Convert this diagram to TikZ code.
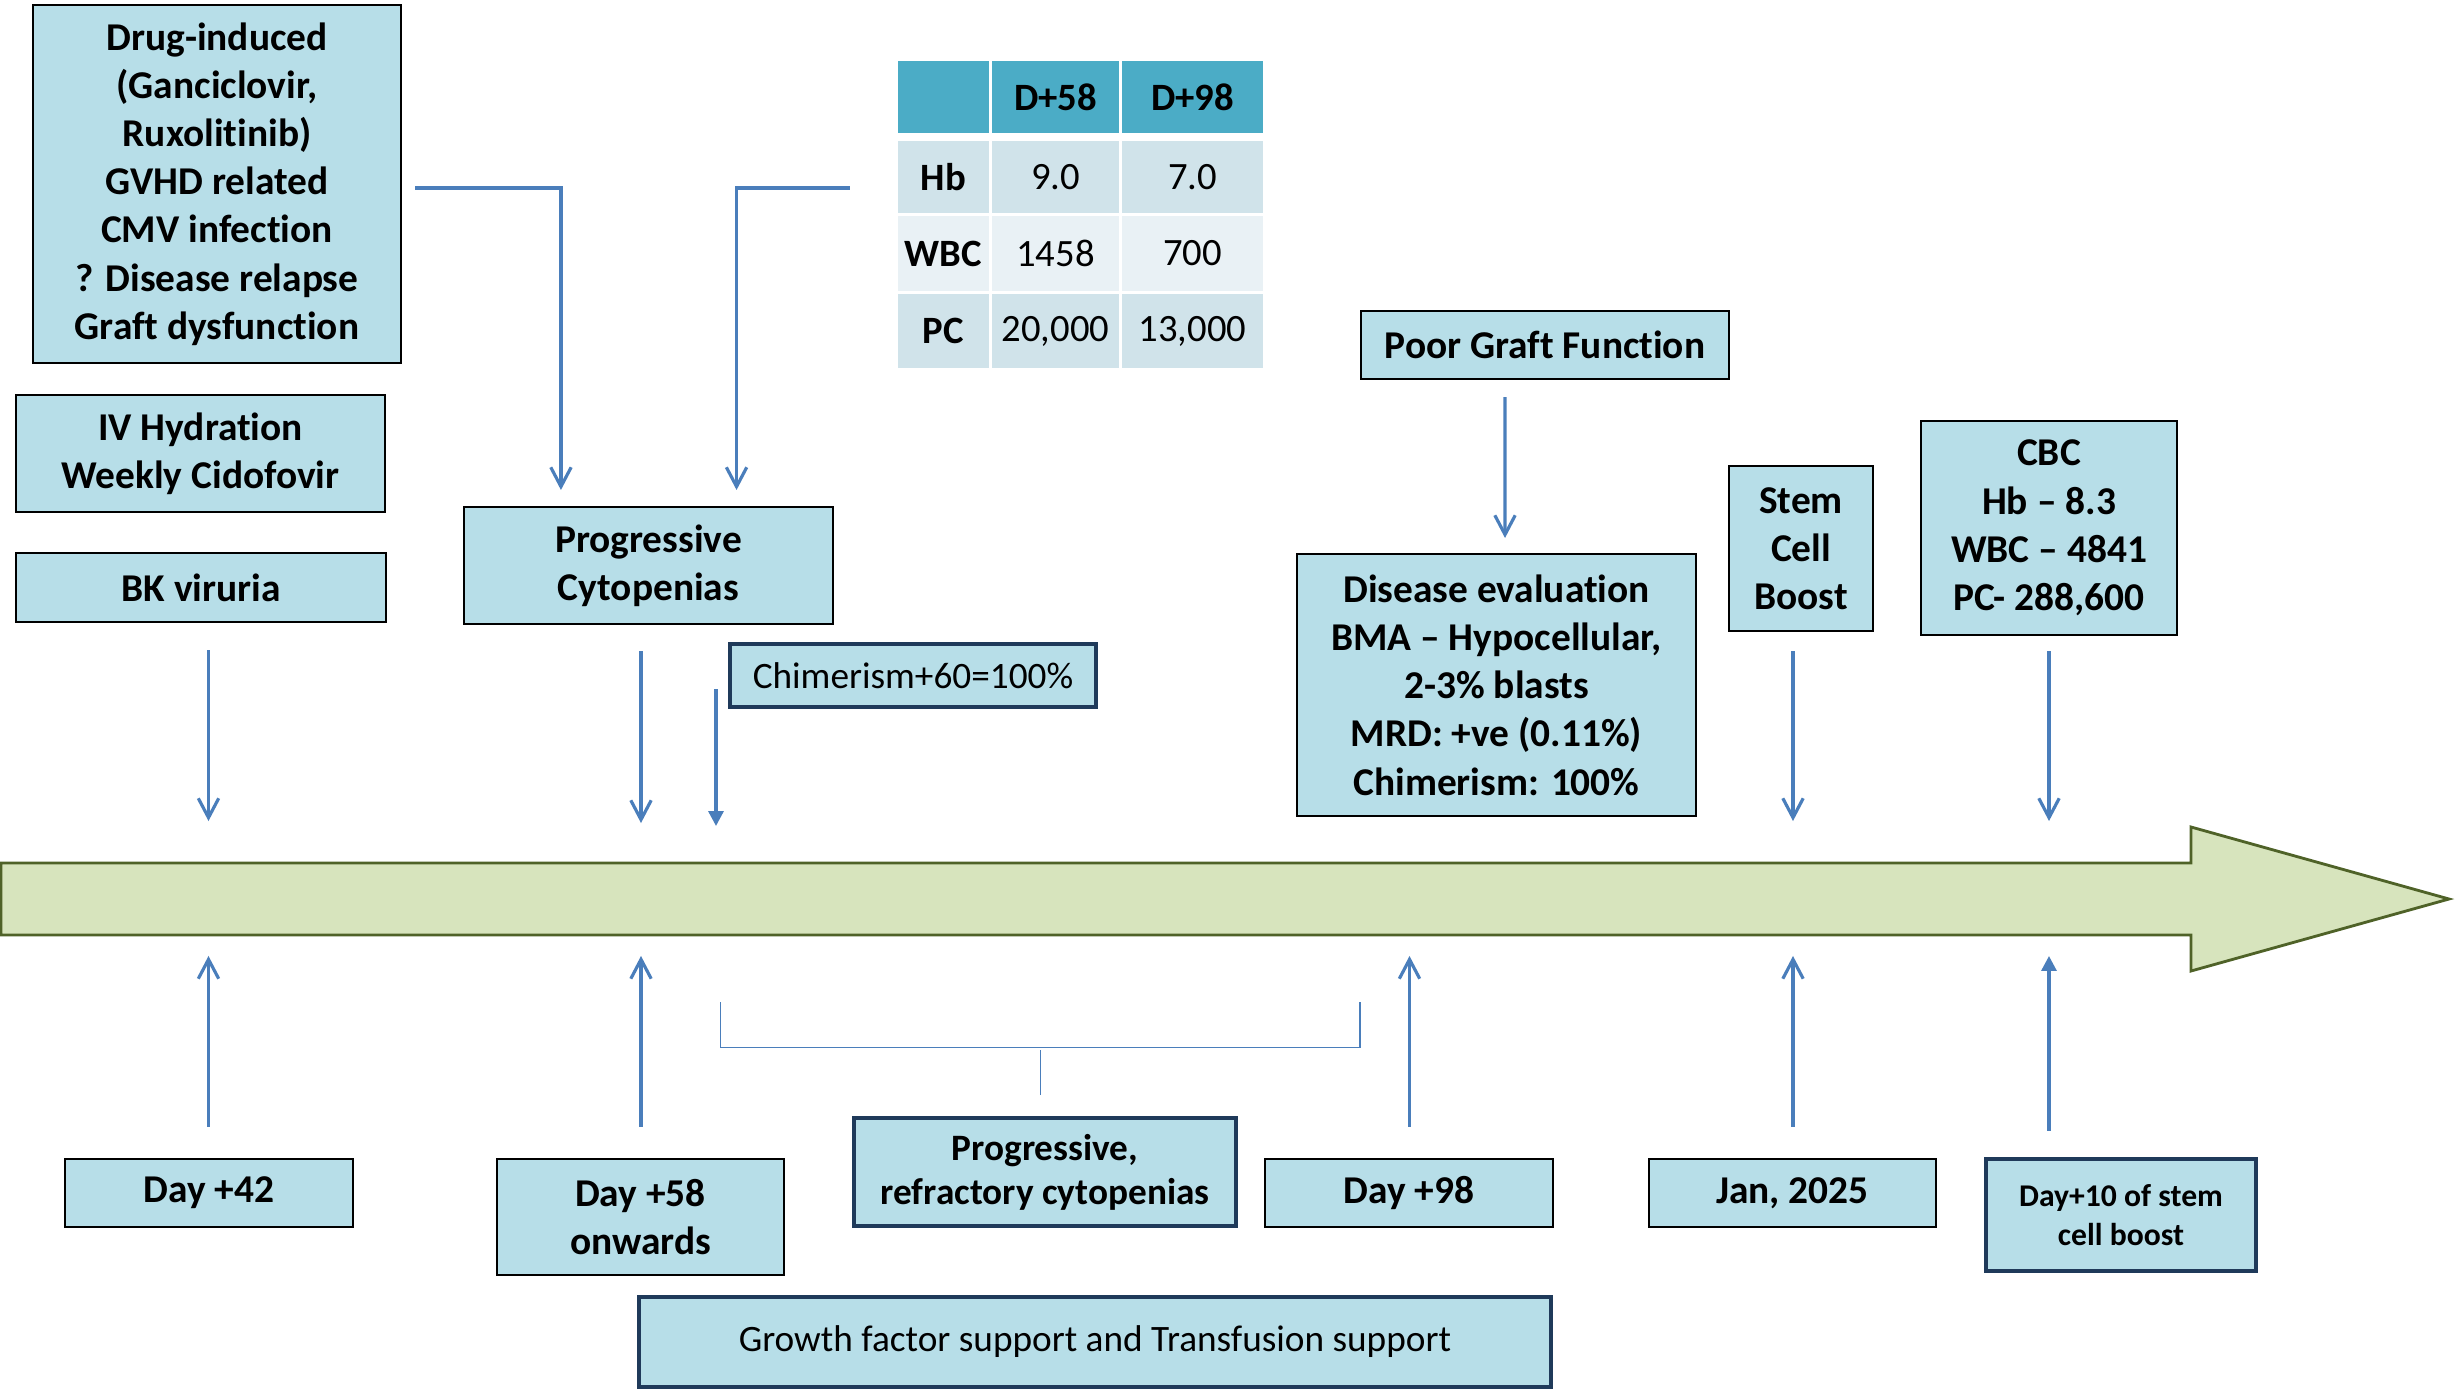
\documentclass[tikz,border=0pt]{standalone}
\usepackage{fontspec}
\setmainfont{Carlito}[Ligatures={TeX,NoCommon}]
\usetikzlibrary{arrows.meta}
\definecolor{boxfill}{HTML}{B7DEE8}
\definecolor{navy}{HTML}{1F3A5A}
\definecolor{arrblue}{HTML}{4A7EBB}
\definecolor{tlfill}{HTML}{D7E4BD}
\definecolor{tldraw}{HTML}{4F6228}
\definecolor{thead}{HTML}{4BACC6}
\definecolor{trowA}{HTML}{D0E3EA}
\definecolor{trowB}{HTML}{E9F1F5}
\begin{document}
\begin{tikzpicture}[x=0.01cm,y=-0.01cm,
  wh/.style 2 args={minimum width=#1*0.01cm, minimum height=#2*0.01cm},
  box/.style={draw=black, line width=0.5pt, fill=boxfill, inner sep=0pt, outer sep=0pt, align=center, font=\fontsize{11.2}{13.7}\selectfont\bfseries},
  thickbox/.style={box, draw=navy, line width=1.3pt},
  regtext/.style={font=\fontsize{10.6}{13}\selectfont},
  cell/.style={inner sep=0pt, outer sep=0pt, font=\fontsize{11}{13}\selectfont},
  boldcell/.style={cell, font=\fontsize{11}{13}\selectfont\bfseries},
  conn/.style={draw=arrblue, line width=0.9pt},
  openarr/.style={conn, -{Straight Barb[length=5.5pt,width=5.8pt]}},
  fillarr/.style={conn, -{Triangle[length=4.2pt,width=4.2pt]}},
  brk/.style={draw=arrblue, line width=0.5pt},
]
\useasboundingbox (0,0) rectangle (2458,1397);

% timeline arrow
\draw[fill=tlfill, draw=tldraw, line width=0.8pt] (1,863) -- (2191,863) -- (2191,827) -- (2449,899) -- (2191,971) -- (2191,935) -- (1,935) -- cycle;

% top-left boxes
\node[box, wh={368}{358}] (drug) at (217,184) {Drug-induced\\(Ganciclovir,\\Ruxolitinib)\\GVHD related\\CMV infection\\? Disease relapse\\Graft dysfunction};
\node[box, wh={369}{117}] (ivh) at (200.5,453.5) {IV Hydration\\Weekly Cidofovir};
\node[box, wh={370}{69}] (bk) at (201,587.5) {BK viruria};
\node[box, wh={369}{117}] (progcyt) at (648.5,565.5) {Progressive\\Cytopenias};
\node[thickbox, regtext, wh={366}{63}] (chim) at (913,675.5) {Chimerism+60=100\%};

% table
\node[cell, fill=thead, wh={91}{72}] (t00) at (943.5,97) {};
\node[boldcell, fill=thead, wh={127}{72}] (t01) at (1055.5,97) {D+58};
\node[boldcell, fill=thead, wh={141}{72}] (t02) at (1192.5,97) {D+98};
\node[boldcell, fill=trowA, wh={91}{72}] (t10) at (943.5,177) {Hb};
\node[cell, fill=trowA, wh={127}{72}] (t11) at (1055.5,177) {9.0};
\node[cell, fill=trowA, wh={141}{72}] (t12) at (1192.5,177) {7.0};
\node[boldcell, fill=trowB, wh={91}{75}] (t20) at (943.5,253.5) {WBC};
\node[cell, fill=trowB, wh={127}{75}] (t21) at (1055.5,253.5) {1458};
\node[cell, fill=trowB, wh={141}{75}] (t22) at (1192.5,253.5) {700};
\node[boldcell, fill=trowA, wh={91}{74}] (t30) at (943.5,331) {PC};
\node[cell, fill=trowA, wh={127}{74}] (t31) at (1055.5,331) {20,000};
\node[cell, fill=trowA, wh={141}{74}] (t32) at (1192.5,331) {13,000};

% right boxes
\node[box, wh={368}{68}] (poor) at (1545,345) {Poor Graft Function};
\node[box, wh={399}{262}] (dis) at (1496.5,685) {Disease evaluation\\BMA – Hypocellular,\\2-3\% blasts\\MRD: +ve (0.11\%)\\Chimerism: 100\%};
\node[box, wh={144}{165}] (stem) at (1801,548.5) {Stem\\Cell\\Boost};
\node[box, wh={256}{214}] (cbc) at (2049,528) {CBC\\Hb – 8.3\\WBC – 4841\\PC- 288,600};

% bottom boxes
\node[box, wh={288}{68}] (d42) at (209,1193) {Day +42};
\node[box, wh={287}{116}] (d58) at (640.5,1217) {Day +58\\onwards};
\node[thickbox, wh={382}{108}, font=\fontsize{10.6}{12.5}\selectfont\bfseries] (prref) at (1045,1172) {Progressive,\\refractory cytopenias};
\node[box, wh={288}{68}] (d98) at (1409,1193) {Day +98};
\node[box, wh={287}{68}] (jan) at (1792.5,1193) {Jan, 2025};
\node[thickbox, wh={270}{112}, font=\fontsize{9}{11}\selectfont\bfseries] (d10) at (2121,1215) {Day+10 of stem\\cell boost};
\node[thickbox, regtext, wh={912}{90}] (growth) at (1095,1342) {Growth factor support and Transfusion support};

% elbow connectors
\draw[openarr] ([xshift=0.14cm,yshift=-0.04cm]drug.east) -| ([xshift=-0.875cm,yshift=0.17cm]progcyt.north);
\draw[openarr] ([xshift=-0.48cm,yshift=-0.11cm]t10.west) -| ([xshift=0.88cm,yshift=0.17cm]progcyt.north);

% down arrows onto timeline
\draw[openarr] ([xshift=0.075cm,yshift=-0.28cm]bk.south) -- ++(0,171);
\draw[openarr] ([xshift=-0.075cm,yshift=-0.27cm]progcyt.south) -- ++(0,172);
\draw[fillarr] ([xshift=-0.14cm,yshift=-0.135cm]chim.west) -- ++(0,137);
\draw[openarr] ([xshift=-0.40cm,yshift=-0.18cm]poor.south) -- ([xshift=0.085cm,yshift=0.16cm]dis.north);
\draw[openarr] ([xshift=-0.08cm,yshift=-0.2cm]stem.south) -- ++(0,170);
\draw[openarr] ([yshift=-0.16cm]cbc.south) -- ++(0,170);

% up arrows onto timeline
\draw[openarr] ([xshift=-0.005cm,yshift=0.32cm]d42.north) -- ++(0,-171);
\draw[openarr] ([xshift=0.005cm,yshift=0.32cm]d58.north) -- ++(0,-171);
\draw[openarr] ([xshift=0.005cm,yshift=0.32cm]d98.north) -- ++(0,-171);
\draw[openarr] ([xshift=0.005cm,yshift=0.32cm]jan.north) -- ++(0,-171);
\draw[fillarr] ([xshift=-0.72cm,yshift=0.28cm]d10.north) -- ++(0,-175);

% bracket
\coordinate (bl) at (720.6,1002);
\coordinate (br) at (1360,1002);
\draw[brk] (bl) |- (br |- 0,1047.5) -- (br);
\draw[brk] ([xshift=-0.044cm,yshift=0.23cm]prref.north) -- ++(0,-45.5);
\end{tikzpicture}
\end{document}
